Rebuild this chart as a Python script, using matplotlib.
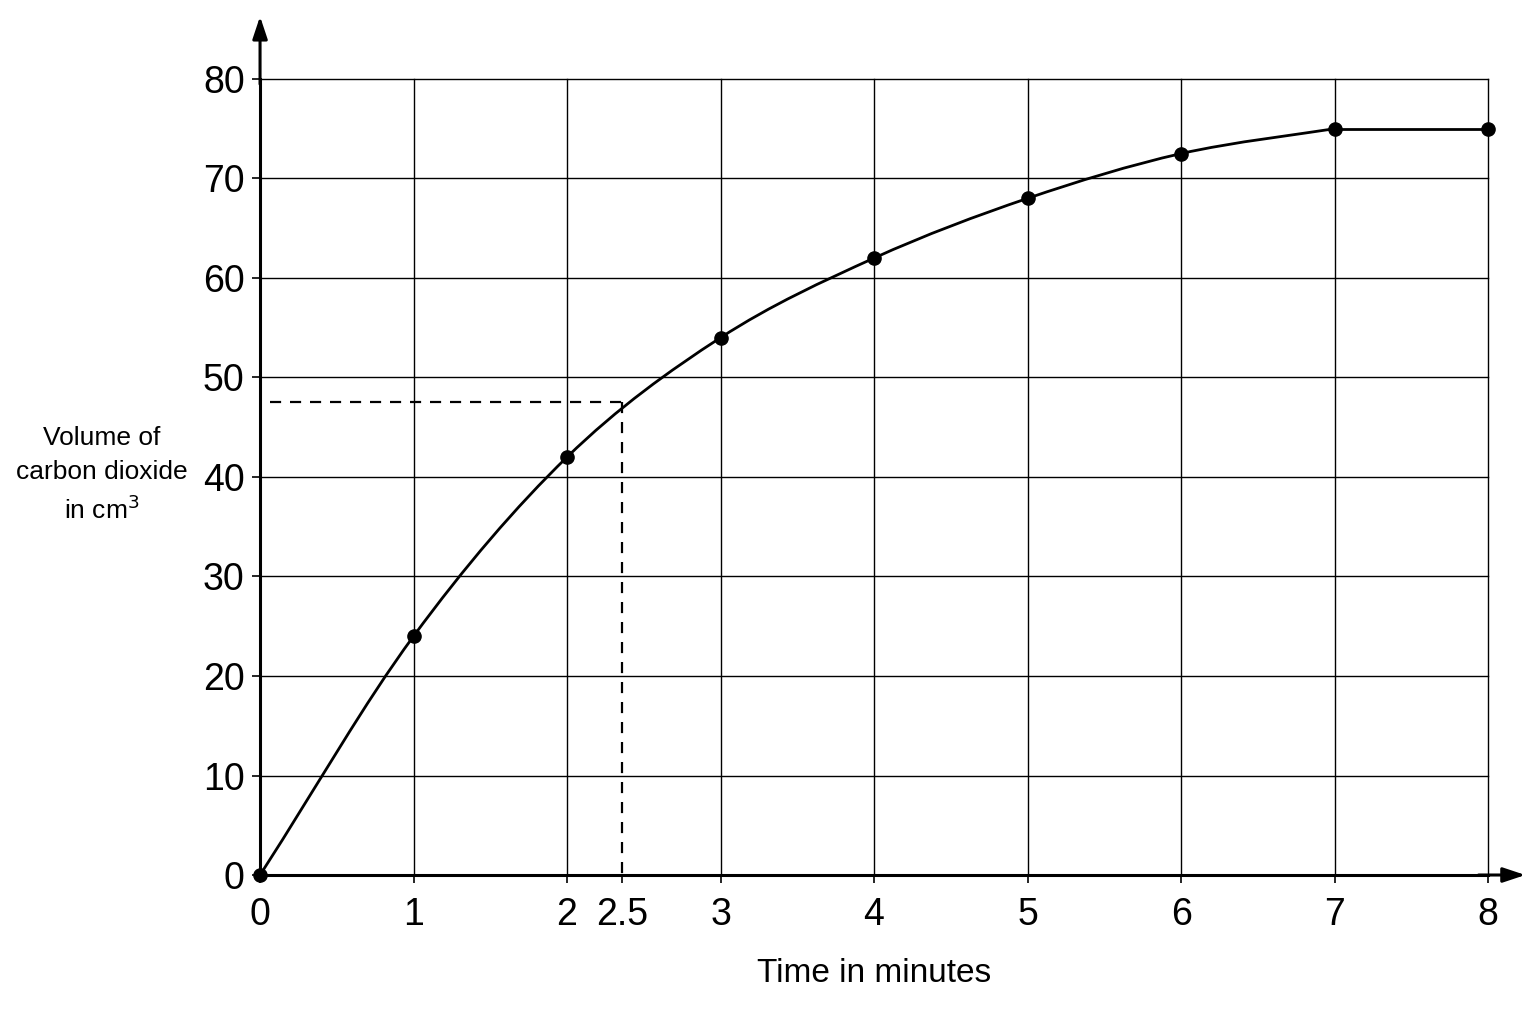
import matplotlib.pyplot as plt
import numpy as np
from matplotlib.path import Path
from matplotlib.patches import PathPatch

plt.rcParams['font.family'] = ['Liberation Sans Narrow', 'Liberation Sans', 'DejaVu Sans']

# data
time_min = [0, 1, 2, 3, 4, 5, 6, 7, 8]
volume_cm3 = [0, 24, 42, 54, 62, 68, 72.5, 75, 75]
y_ticks = [0, 10, 20, 30, 40, 50, 60, 70, 80]
read_time = 2.36        # where the dashed reading line is drawn
read_label = '2.5'      # what it is labelled
read_volume = 47.5


def smooth_path(xs, ys):
    # bezier through the points, drawn as a path
    pts = np.column_stack([xs, ys]).astype(float)
    n = len(pts)
    tang = np.zeros_like(pts)
    tang[0] = (pts[1] - pts[0]) * 1.2
    tang[-1] = (pts[-1] - pts[-2]) * 0.6
    for i in range(1, n - 1):
        tang[i] = (pts[i + 1] - pts[i - 1]) / 2
    verts = [pts[0]]
    codes = [Path.MOVETO]
    for i in range(n - 1):
        verts += [pts[i] + tang[i] / 3, pts[i + 1] - tang[i + 1] / 3, pts[i + 1]]
        codes += [Path.CURVE4] * 3
    return Path(verts, codes)


fig = plt.figure(figsize=(15.36, 10.24), dpi=100)
ax = fig.add_axes([0.1693, 0.1455, 0.7995, 0.7774])

ax.set_xlim(0, 8)
ax.set_ylim(0, 80)
xt = [0, 1, 2, read_time, 3, 4, 5, 6, 7, 8]
ax.set_xticks(xt)
ax.set_xticklabels(['0', '1', '2', read_label, '3', '4', '5', '6', '7', '8'])
ax.set_yticks(y_ticks)

# grid
for xv in range(1, 9):
    ax.axvline(xv, color='black', lw=1.0, zorder=1, clip_on=False)
for yv in y_ticks[1:]:
    ax.axhline(yv, color='black', lw=1.0, zorder=1, clip_on=False)

for s in ['top', 'right']:
    ax.spines[s].set_visible(False)
ax.spines['left'].set_linewidth(2.2)
ax.spines['bottom'].set_linewidth(2.2)
ax.spines['left'].set_zorder(3)
ax.spines['bottom'].set_zorder(3)

ax.tick_params(axis='both', direction='out', length=6, width=1.2, labelsize=27)
ax.tick_params(axis='y', pad=5)
ax.tick_params(axis='x', pad=10)

# axis arrows
arrow = dict(arrowstyle='-|>,head_length=0.9,head_width=0.3',
             color='black', lw=2.2, mutation_scale=15)
ax.annotate('', xy=(0, 1.082), xytext=(0, 0.99), xycoords='axes fraction',
            arrowprops=arrow)
ax.annotate('', xy=(1.0326, 0), xytext=(0.99, 0), xycoords='axes fraction',
            arrowprops=arrow)

# curve: smooth up to 7 minutes, then flat
curve = smooth_path(time_min[:8], volume_cm3[:8])
ax.add_patch(PathPatch(curve, facecolor='none', edgecolor='black', lw=2.0, zorder=4))
ax.plot(time_min[7:], volume_cm3[7:], color='black', lw=2.0, zorder=4)
ax.plot(time_min, volume_cm3, 'o', color='black', ms=9.5, zorder=5, clip_on=False)

# reading lines
ax.plot([0.065, read_time], [read_volume, read_volume], color='black', lw=1.6,
        ls=(0, (5, 4)), zorder=4)
ax.plot([read_time, read_time], [read_volume, 0], color='black', lw=1.6,
        ls=(0, (5, 4)), zorder=4)

ax.set_xlabel('Time in minutes', fontsize=24, labelpad=18)
fig.text(0.066, 0.536, 'Volume of\ncarbon dioxide\nin cm$^3$', ha='center', va='center',
         fontsize=19, linespacing=1.5)

fig.savefig('out.png', dpi=100, facecolor='white')
